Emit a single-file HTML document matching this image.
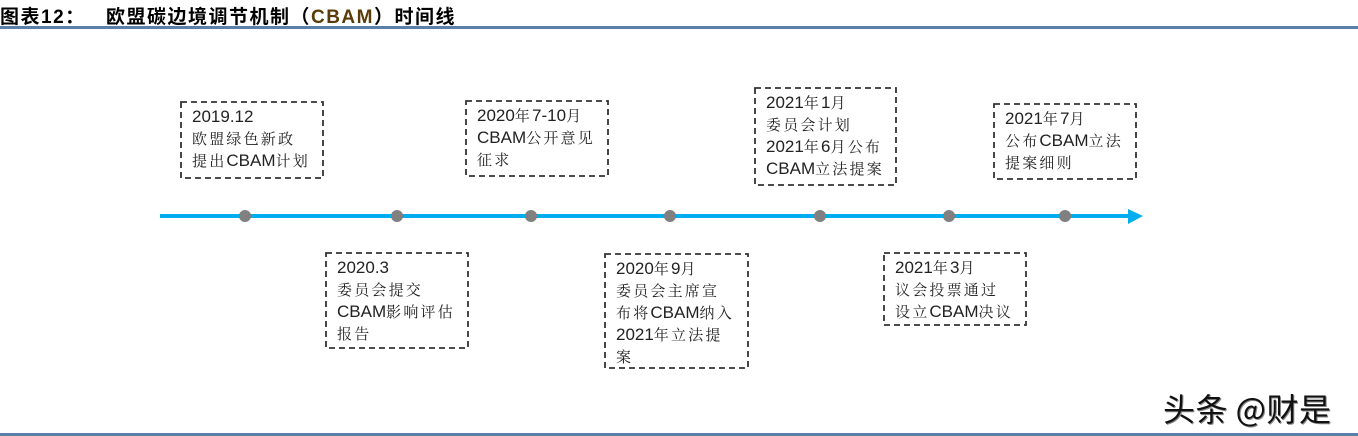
<!DOCTYPE html>
<html><head><meta charset="utf-8"><style>
body{margin:0;width:1358px;height:436px;background:#fff;position:relative;overflow:hidden;font-family:"Liberation Sans","Noto Serif CJK SC",serif;}
.t{position:absolute;left:0px;top:2px;font-size:19px;font-weight:bold;font-family:"Liberation Sans","Noto Sans CJK SC",sans-serif;color:#000;white-space:nowrap;letter-spacing:1.5px}
.hl{position:absolute;left:0;width:1358px;height:3px;background:#5b7fa8}
.b{position:absolute;box-sizing:border-box;padding:5px 0 0 12px;font-size:15px;line-height:22px;color:#222;white-space:nowrap;font-family:"Noto Serif CJK SC","Liberation Sans",serif;letter-spacing:2.2px}
.b i{font-style:normal;font-family:"Liberation Sans",sans-serif;font-size:17px;letter-spacing:0}
.b svg{position:absolute;left:0;top:0;overflow:visible}
.d{position:absolute;width:12px;height:12px;border-radius:50%;background:#808080;top:210px}
.wm{position:absolute;left:1163px;top:385px;font-size:32px;font-family:"Noto Sans CJK SC",sans-serif;color:#111;text-shadow:1px 1px 0 #888;letter-spacing:0.5px}
</style></head><body>
<div class="t">图表12：&nbsp;&nbsp;&nbsp;欧盟碳边境调节机制（<span style="color:#5a3c08">CBAM</span>）时间线</div>
<div class="hl" style="top:26px"></div>
<div class="hl" style="top:433px"></div>
<div style="position:absolute;left:160px;top:214px;width:970px;height:4px;background:#00aeef"></div>
<svg style="position:absolute;left:1128px;top:208px" width="16" height="18"><polygon points="0,1 15,8 0,16" fill="#00aeef"/></svg>
<div class="d" style="left:239px"></div>
<div class="d" style="left:391px"></div>
<div class="d" style="left:525px"></div>
<div class="d" style="left:664px"></div>
<div class="d" style="left:814px"></div>
<div class="d" style="left:943px"></div>
<div class="d" style="left:1059px"></div>

<div class="b" style="left:180px;top:101px;width:144px;height:78px"><svg width="144" height="78"><rect x="1" y="1" width="142" height="76" fill="none" stroke="#333" stroke-width="1.8" stroke-dasharray="6,4"/></svg><i>2019.12</i><br>欧盟绿色新政<br>提出<i>CBAM</i>计划</div>
<div class="b" style="left:325px;top:252px;width:144px;height:97px"><svg width="144" height="97"><rect x="1" y="1" width="142" height="95" fill="none" stroke="#333" stroke-width="1.8" stroke-dasharray="6,4"/></svg><i>2020.3</i><br>委员会提交<br><i>CBAM</i>影响评估<br>报告</div>
<div class="b" style="left:465px;top:100px;width:144px;height:77px"><svg width="144" height="77"><rect x="1" y="1" width="142" height="75" fill="none" stroke="#333" stroke-width="1.8" stroke-dasharray="6,4"/></svg><i>2020</i>年<i>7-10</i>月<br><i>CBAM</i>公开意见<br>征求</div>
<div class="b" style="left:604px;top:253px;width:145px;height:116px"><svg width="145" height="116"><rect x="1" y="1" width="143" height="114" fill="none" stroke="#333" stroke-width="1.8" stroke-dasharray="6,4"/></svg><i>2020</i>年<i>9</i>月<br>委员会主席宣<br>布将<i>CBAM</i>纳入<br><i>2021</i>年立法提<br>案</div>
<div class="b" style="left:754px;top:87px;width:143px;height:99px"><svg width="143" height="99"><rect x="1" y="1" width="141" height="97" fill="none" stroke="#333" stroke-width="1.8" stroke-dasharray="6,4"/></svg><i>2021</i>年<i>1</i>月<br>委员会计划<br><i>2021</i>年<i>6</i>月公布<br><i>CBAM</i>立法提案</div>
<div class="b" style="left:883px;top:252px;width:144px;height:74px"><svg width="144" height="74"><rect x="1" y="1" width="142" height="72" fill="none" stroke="#333" stroke-width="1.8" stroke-dasharray="6,4"/></svg><i>2021</i>年<i>3</i>月<br>议会投票通过<br>设立<i>CBAM</i>决议</div>
<div class="b" style="left:993px;top:103px;width:144px;height:77px"><svg width="144" height="77"><rect x="1" y="1" width="142" height="75" fill="none" stroke="#333" stroke-width="1.8" stroke-dasharray="6,4"/></svg><i>2021</i>年<i>7</i>月<br>公布<i>CBAM</i>立法<br>提案细则</div>
<div class="wm">头条 @财是</div>
</body></html>
